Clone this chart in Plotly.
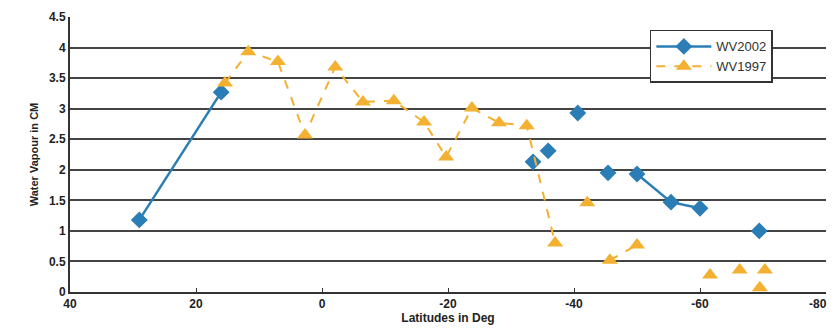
import plotly.graph_objects as go

# WV2002 (blue diamonds); None marks gaps in the connecting line
wv2002_lat = [29, 16, None, -33.5, None, -35.9, None, -40.6, None, -45.4, None, -50, -55.4, -60, None, -69.4]
wv2002_val = [1.18, 3.27, None, 2.13, None, 2.31, None, 2.93, None, 1.95, None, 1.93, 1.47, 1.37, None, 1.0]

# WV1997 (orange triangles)
wv1997_lat = [15.4, 11.7, 7, 2.7, -2.1, -6.5, -11.4, -16.2, -19.7, -23.8, -28.1, -32.5, -37,
              None, -42.1, None, -45.7, -50, None, -61.6, None, -66.3, None, -69.5, None, -70.3]
wv1997_val = [3.42, 3.93, 3.77, 2.57, 3.68, 3.11, 3.13, 2.78, 2.21, 3.01, 2.77, 2.72, 0.8,
              None, 1.46, None, 0.52, 0.77, None, 0.28, None, 0.36, None, 0.07, None, 0.36]

x_ticks = [40, 20, 0, -20, -40, -60, -80]
y_ticks = [0, 0.5, 1, 1.5, 2, 2.5, 3, 3.5, 4, 4.5]

BLUE = "#2b7db5"
ORANGE = "#f4b030"

fig = go.Figure()
fig.add_trace(go.Scatter(
    x=wv2002_lat, y=wv2002_val, name="WV2002", mode="lines+markers",
    line=dict(color=BLUE, width=2.5),
    marker=dict(symbol="diamond", size=13, color=BLUE),
    connectgaps=False,
))
fig.add_trace(go.Scatter(
    x=wv1997_lat, y=wv1997_val, name="WV1997", mode="lines+markers",
    line=dict(color=ORANGE, width=2, dash="dash"),
    marker=dict(symbol="triangle-up", size=14, color=ORANGE),
    connectgaps=False,
))

font_b = dict(family="Arial, Liberation Sans, sans-serif", size=12, color="#222", weight="bold")

# last tick label is placed right-aligned so it stays inside the window
tick_text = [str(v) for v in x_ticks[:-1]] + [""]

fig.update_layout(
    width=829, height=320,
    margin=dict(l=62, r=11, t=9, b=36),
    paper_bgcolor="white", plot_bgcolor="white",
    showlegend=True,
    legend=dict(
        x=0.767, y=0.953, xanchor="left", yanchor="top",
        bgcolor="white", bordercolor="#333", borderwidth=1.5,
        font=dict(family="Arial, Liberation Sans, sans-serif", size=13, color="#333"),
        itemwidth=55, tracegroupgap=2,
    ),
    xaxis=dict(
        range=[40, -80], tickvals=x_ticks, ticktext=tick_text,
        showgrid=False, zeroline=False, automargin=False,
        showline=True, linecolor="#333", linewidth=2,
        ticks="inside", ticklen=4, tickcolor="#333",
        tickfont=font_b,
        title=dict(text="Latitudes in Deg", font=font_b, standoff=0),
    ),
    yaxis=dict(
        range=[0, 4.5], tickvals=y_ticks, ticktext=[f"{v:g}" for v in y_ticks],
        showgrid=True, gridcolor="#444", gridwidth=1.5,
        zeroline=False, automargin=False,
        showline=True, linecolor="#333", linewidth=2,
        ticks="", tickfont=font_b,
        title=dict(text="Water Vapour in CM", font=dict(family="Arial, Liberation Sans, sans-serif", size=11, color="#222", weight="bold"), standoff=8),
    ),
    annotations=[dict(
        x=x_ticks[-1], y=0, xref="x", yref="y", text=str(x_ticks[-1]),
        showarrow=False, xanchor="right", yanchor="top", xshift=3, yshift=-3,
        font=font_b,
    )],
)

fig.write_html("out.html")
